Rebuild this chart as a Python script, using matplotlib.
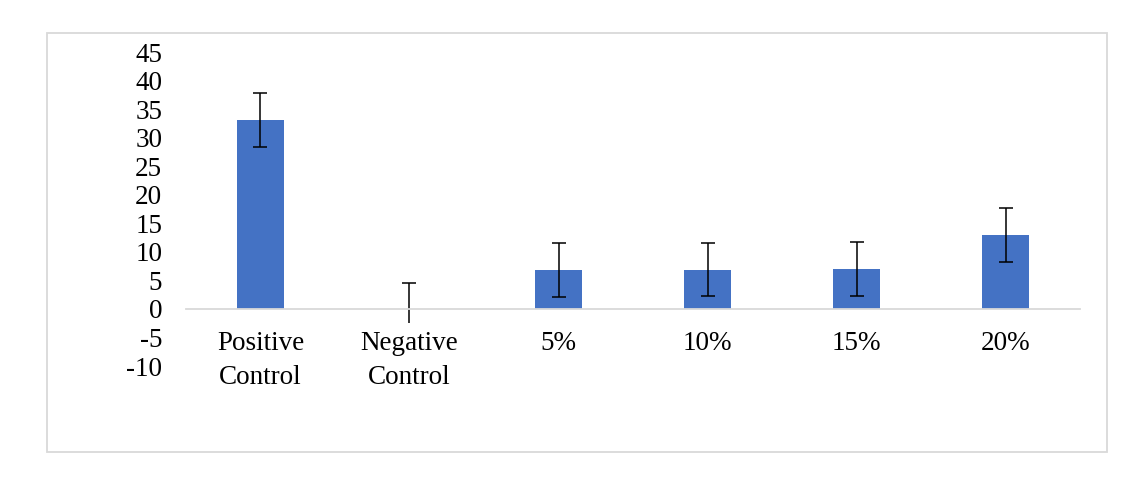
import numpy as np
import matplotlib.pyplot as plt
from matplotlib.patches import Rectangle

# data
categories = ["Positive\nControl", "Negative\nControl", "5%", "10%", "15%", "20%"]
values = [33.1, 0.0, 6.8, 6.9, 7.0, 13.0]
errors = [4.7, 4.6, 4.7, 4.7, 4.8, 4.7]
y_ticks = [-10, -5, 0, 5, 10, 15, 20, 25, 30, 35, 40, 45]

plt.rcParams['font.family'] = ['Liberation Serif', 'DejaVu Serif']

fig = plt.figure(figsize=(11.48, 4.78), dpi=100)
fig.patch.set_facecolor("white")

# outer chart border
fig.patches.append(Rectangle((0.0409, 0.0544), 0.9234, 0.8766,
                             transform=fig.transFigure, fill=False,
                             edgecolor="#d9d9d9", linewidth=1.3))

ax = fig.add_axes([0.162, 0.2343, 0.9408 - 0.162, 0.891 - 0.2343])

x = np.arange(len(categories))
ax.bar(x, values, width=0.31, color="#4472C4", zorder=1)
ax.errorbar(x, values, yerr=errors, fmt="none", ecolor="black",
            elinewidth=1.1, capsize=5, capthick=1.1, zorder=2)

ax.set_xlim(-0.5, len(categories) - 0.5)
ax.set_ylim(-10, 45)
ax.set_yticks(y_ticks)
ax.set_yticklabels([str(t) for t in y_ticks])
ax.set_xticks(x)
ax.set_xticklabels(categories)

for side in ["top", "right", "left"]:
    ax.spines[side].set_visible(False)
ax.spines["bottom"].set_position(("data", 0))
ax.spines["bottom"].set_color("#d9d9d9")
ax.spines["bottom"].set_linewidth(1.3)
ax.set_axisbelow(False)
ax.spines["bottom"].set_zorder(3)

ax.tick_params(axis="y", length=0, pad=17, labelsize=19.5)
ax.tick_params(axis="x", length=0, pad=16, labelsize=19.5)
for lab in ax.get_xticklabels():
    lab.set_linespacing(1.45)
    lab.set_multialignment("center")
    lab.set_bbox(dict(facecolor="white", edgecolor="none", pad=6))

fig.savefig("out.png", dpi=100, facecolor="white")
